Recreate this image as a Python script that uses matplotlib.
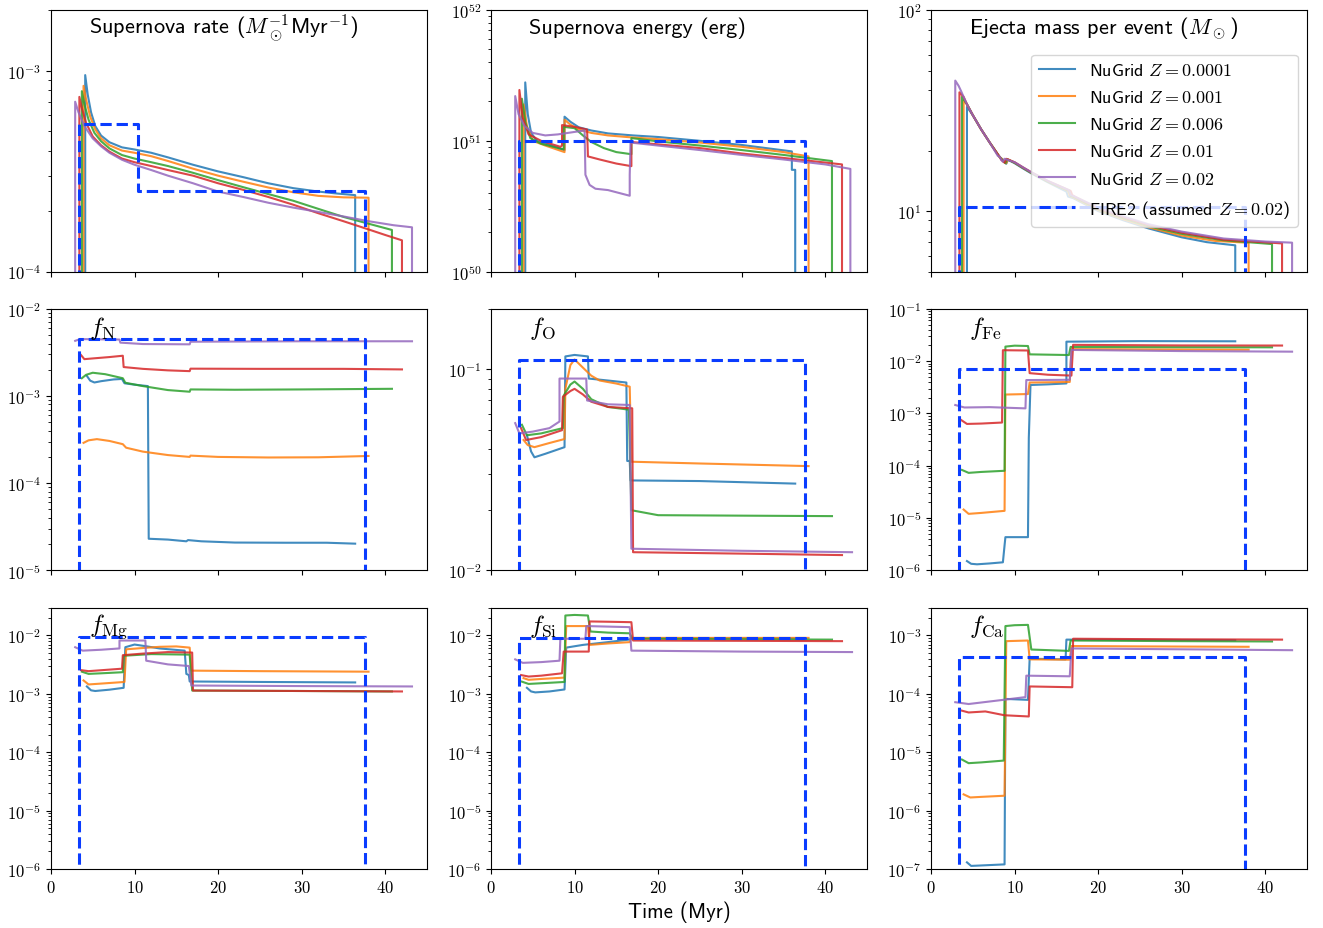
import numpy as np
import matplotlib
matplotlib.use('Agg')
import matplotlib.pyplot as plt
from matplotlib.ticker import FuncFormatter, NullFormatter, MultipleLocator

plt.rcParams['mathtext.fontset'] = 'cm'
plt.rcParams['font.family'] = 'cmss10'

Z_labels = ['0.0001', '0.001', '0.006', '0.01', '0.02']
colors = ['C0', 'C1', 'C2', 'C3', 'C4']

# FIRE2 step values (steps-post)
fire_t = [0, 3.401, 10.37, 37.53, 45]
fire_rate = [0, 5.408e-4, 2.516e-4, 0, 0]
fire_energy = [0, 1e51, 1e51, 0, 0]
fire_mass = [0, 10.5, 10.5, 0, 0]
fire_N = [0, 4.56e-3, 4.56e-3, 0, 0]
fire_O = [0, 0.111, 0.111, 0, 0]
fire_Fe = [0, 7.06e-3, 7.06e-3, 0, 0]
fire_Mg = [0, 9.40e-3, 9.40e-3, 0, 0]
fire_Si = [0, 8.89e-3, 8.89e-3, 0, 0]
fire_Ca = [0, 4.36e-4, 4.36e-4, 0, 0]

# supernova rate (Msun^-1 Myr^-1), (time, value)
rate_z0001 = [(4.1, 0), (4.1, 9.5e-4), (4.4, 7.6e-4), (4.8, 6.2e-4), (5.3, 5.3e-4), (6, 4.75e-4), (7, 4.4e-4),
              (8.5, 4.15e-4), (10, 4.05e-4), (12, 3.9e-4), (14, 3.7e-4), (17, 3.4e-4), (20, 3.15e-4), (23, 2.95e-4),
              (26, 2.75e-4), (29, 2.6e-4), (32, 2.5e-4), (34, 2.45e-4), (36.4, 2.4e-4), (36.4, 0)]
rate_z001 = [(3.9, 0), (3.9, 8.4e-4), (4.2, 7.2e-4), (4.7, 5.9e-4), (5.3, 5.1e-4), (6, 4.6e-4), (7, 4.25e-4),
             (8.5, 4.0e-4), (10, 3.9e-4), (12, 3.75e-4), (14, 3.55e-4), (17, 3.25e-4), (20, 3.0e-4), (23, 2.8e-4),
             (26, 2.62e-4), (29, 2.48e-4), (32, 2.38e-4), (35, 2.34e-4), (38.0, 2.33e-4), (38.0, 0)]
rate_z006 = [(3.7, 0), (3.7, 7.9e-4), (4.0, 6.8e-4), (4.5, 5.7e-4), (5.2, 4.9e-4), (6, 4.45e-4), (7, 4.1e-4),
             (8.5, 3.8e-4), (10, 3.65e-4), (12, 3.5e-4), (14, 3.35e-4), (17, 3.1e-4), (20, 2.85e-4), (23, 2.63e-4),
             (26, 2.43e-4), (29, 2.25e-4), (32, 2.05e-4), (35, 1.87e-4), (38, 1.73e-4), (40.8, 1.61e-4), (40.8, 0)]
rate_z01 = [(3.4, 0), (3.4, 7.4e-4), (3.7, 6.5e-4), (4.2, 5.5e-4), (5, 4.7e-4), (6, 4.25e-4), (7, 3.95e-4),
            (8.5, 3.65e-4), (10, 3.5e-4), (12, 3.35e-4), (14, 3.2e-4), (17, 3.0e-4), (20, 2.75e-4), (23, 2.55e-4),
            (26, 2.35e-4), (29, 2.15e-4), (32, 1.95e-4), (35, 1.78e-4), (38, 1.62e-4), (40, 1.52e-4),
            (42.0, 1.43e-4), (42.0, 0)]
rate_z02 = [(2.9, 0), (2.9, 7.0e-4), (3.3, 6.2e-4), (4, 5.3e-4), (5, 4.6e-4), (6, 4.2e-4), (7, 3.9e-4),
            (8.5, 3.6e-4), (10, 3.4e-4), (12, 3.2e-4), (14, 3.0e-4), (17, 2.75e-4), (20, 2.5e-4), (23, 2.35e-4),
            (26, 2.2e-4), (29, 2.08e-4), (32, 1.98e-4), (35, 1.88e-4), (38, 1.78e-4), (41, 1.7e-4),
            (43.2, 1.66e-4), (43.2, 0)]

# supernova energy (erg)
energy_z0001 = [(4.1, 0), (4.1, 2.8e51), (4.4, 1.6e51), (4.8, 1.15e51), (5.5, 1.0e51), (7, 0.93e51),
                (8.8, 0.85e51), (8.8, 1.53e51), (9.5, 1.4e51), (10.5, 1.27e51), (12, 1.2e51), (14, 1.14e51),
                (17, 1.1e51), (20, 1.07e51), (25, 1.0e51), (30, 0.93e51), (36.0, 0.83e51), (36.0, 0.6e51),
                (36.4, 0.6e51), (36.4, 0)]
energy_z001 = [(3.9, 0), (3.9, 1.9e51), (4.3, 1.3e51), (5, 1.0e51), (6.5, 0.92e51), (8.8, 0.82e51),
               (8.8, 1.45e51), (9.5, 1.33e51), (10.5, 1.22e51), (12, 1.15e51), (14, 1.1e51), (17, 1.06e51),
               (20, 1.03e51), (25, 0.97e51), (30, 0.9e51), (35, 0.82e51), (38.0, 0.76e51), (38.0, 0)]
energy_z006 = [(3.7, 0), (3.7, 2.1e51), (4.1, 1.4e51), (4.7, 1.05e51), (6, 0.95e51), (8.7, 0.86e51),
               (8.7, 1.28e51), (10, 1.25e51), (11, 1.1e51), (12, 0.98e51), (13.5, 0.88e51), (15, 0.82e51),
               (16.8, 0.79e51), (16.8, 1.05e51), (20, 0.99e51), (25, 0.92e51), (30, 0.85e51), (35, 0.78e51),
               (40.8, 0.7e51), (40.8, 0)]
energy_z01 = [(3.4, 0), (3.4, 2.45e51), (3.8, 1.5e51), (4.5, 1.12e51), (6, 1.0e51), (8.3, 0.9e51),
              (8.5, 0.92e51), (8.5, 1.32e51), (10, 1.28e51), (11.5, 1.22e51), (11.6, 0.76e51), (13, 0.72e51),
              (15, 0.67e51), (16.8, 0.64e51), (16.8, 0.98e51), (20, 0.94e51), (25, 0.88e51), (30, 0.8e51),
              (35, 0.74e51), (42.0, 0.66e51), (42.0, 0)]
energy_z02 = [(2.9, 0), (2.9, 2.2e51), (3.3, 1.6e51), (4, 1.3e51), (5, 1.15e51), (6.5, 1.1e51), (8, 1.12e51),
              (10, 1.17e51), (11.2, 1.2e51), (11.3, 0.55e51), (11.8, 0.46e51), (12.5, 0.43e51), (14, 0.42e51),
              (16.6, 0.38e51), (16.6, 0.55e51), (16.7, 0.97e51), (20, 0.92e51), (25, 0.85e51), (30, 0.78e51),
              (35, 0.72e51), (40, 0.66e51), (43.0, 0.61e51), (43.0, 0)]

# ejecta mass per event (Msun)
mass_z0001 = [(4.3, 0), (4.3, 33.0), (5, 30), (6, 25.5), (7, 22), (8.2, 18.6), (8.6, 18.0), (9.0, 17.2),
              (9.2, 18.0), (10, 17.3), (11, 16.3), (12, 15.4), (14, 13.9), (16.2, 12.5), (16.4, 11.8), (17, 11.6),
              (20, 10.0), (23, 9.0), (26, 8.2), (30, 7.4), (33, 7.0), (36.4, 6.75), (36.4, 0)]
mass_z001 = [(3.9, 0), (3.9, 35.5), (4.3, 34), (5, 30), (6, 25.5), (7, 22), (8.2, 18.6), (8.6, 18.0),
             (9.0, 17.3), (9.2, 18.1), (10, 17.4), (11, 16.4), (12, 15.5), (14, 14.0), (16.4, 12.6), (16.6, 11.9),
             (17, 11.7), (20, 10.1), (23, 9.1), (26, 8.3), (30, 7.55), (34, 7.1), (38.0, 6.95), (38.0, 0)]
mass_z006 = [(3.7, 0), (3.7, 37), (4.3, 34), (5, 30), (6, 25.5), (7, 22), (8.2, 18.6), (8.5, 18.0),
             (8.9, 17.3), (9.1, 18.1), (10, 17.4), (11, 16.4), (12, 15.5), (14, 14.0), (16.5, 12.6),
             (16.7, 11.9), (17, 11.8), (20, 10.2), (23, 9.2), (26, 8.4), (30, 7.7), (35, 7.15), (40.8, 6.85),
             (40.8, 0)]
mass_z01 = [(3.4, 0), (3.4, 39), (3.9, 37), (4.3, 34), (5, 30), (6, 25.5), (7, 22), (8.2, 18.6), (8.4, 18.0),
            (8.8, 17.4), (9.0, 18.2), (10, 17.5), (11, 16.5), (12, 15.6), (14, 14.1), (16.7, 12.6), (16.9, 12.0),
            (17.2, 11.8), (20, 10.3), (23, 9.3), (26, 8.5), (30, 7.8), (35, 7.2), (42.0, 6.9), (42.0, 0)]
mass_z02 = [(2.9, 0), (2.9, 44.6), (3.3, 42), (3.6, 39.5), (3.9, 37), (4.3, 34), (5, 30), (6, 25.5), (7, 22),
            (8.0, 18.8), (8.2, 18.7), (8.4, 18.0), (8.6, 17.6), (8.8, 18.2), (10, 17.5), (11, 16.5), (12, 15.6),
            (14, 14.1), (16.5, 12.7), (16.7, 12.0), (17, 11.9), (20, 10.4), (23, 9.4), (26, 8.6), (30, 7.9),
            (35, 7.3), (40, 7.05), (43.2, 6.96), (43.2, 0)]

# nitrogen mass fraction
fN_z0001 = [(4.3, 1.7e-3), (4.7, 1.5e-3), (5.2, 1.43e-3), (6, 1.48e-3), (7.5, 1.55e-3), (8.5, 1.57e-3),
            (8.8, 1.4e-3), (10, 1.35e-3), (11.6, 1.3e-3), (11.7, 2.3e-5), (14, 2.25e-5), (16.2, 2.15e-5),
            (16.4, 2.22e-5), (18, 2.15e-5), (22, 2.08e-5), (28, 2.07e-5), (33, 2.07e-5), (36.4, 2.02e-5)]
fN_z001 = [(3.9, 2.9e-4), (4.5, 3.1e-4), (5.5, 3.2e-4), (7, 3.05e-4), (8.6, 2.8e-4), (9.0, 2.55e-4),
           (11, 2.3e-4), (14, 2.1e-4), (16.6, 2.0e-4), (16.7, 2.07e-4), (20, 2.0e-4), (26, 1.97e-4),
           (32, 1.98e-4), (38.0, 2.05e-4)]
fN_z006 = [(3.7, 1.6e-3), (4.2, 1.75e-3), (5, 1.85e-3), (6.5, 1.78e-3), (8.6, 1.6e-3), (8.9, 1.42e-3),
           (11, 1.3e-3), (14, 1.17e-3), (16.6, 1.12e-3), (16.7, 1.19e-3), (22, 1.18e-3), (30, 1.19e-3),
           (40.8, 1.21e-3)]
fN_z01 = [(3.6, 2.95e-3), (4.0, 2.65e-3), (5, 2.7e-3), (7, 2.8e-3), (8.6, 2.9e-3), (8.7, 2.15e-3),
          (11, 2.05e-3), (14, 1.97e-3), (16.6, 1.93e-3), (16.7, 2.06e-3), (25, 2.05e-3), (35, 2.05e-3),
          (42.0, 2.02e-3)]
fN_z02 = [(2.9, 4.3e-3), (3.5, 4.5e-3), (8.2, 4.45e-3), (8.3, 4.1e-3), (11, 3.95e-3), (16.6, 3.92e-3),
          (16.7, 4.2e-3), (30, 4.25e-3), (43.2, 4.25e-3)]

# oxygen mass fraction
fO_z0001 = [(4.3, 0.047), (4.8, 0.039), (5.2, 0.0365), (6.5, 0.038), (8.8, 0.041), (8.9, 0.116), (10, 0.118),
            (11.6, 0.116), (11.7, 0.090), (14, 0.088), (16.2, 0.086), (16.3, 0.035), (16.6, 0.035),
            (16.7, 0.028), (25, 0.0278), (36.4, 0.027)]
fO_z001 = [(3.9, 0.0445), (4.4, 0.042), (5.2, 0.041), (7, 0.043), (8.8, 0.045), (8.9, 0.08), (9.5, 0.105),
           (10, 0.112), (11, 0.102), (12, 0.093), (13, 0.088), (15, 0.085), (16.6, 0.082), (16.8, 0.0347),
           (25, 0.034), (38.0, 0.033)]
fO_z006 = [(3.7, 0.053), (4.3, 0.047), (6, 0.048), (8.6, 0.051), (8.7, 0.074), (9.5, 0.084), (10, 0.087),
           (11, 0.08), (12, 0.071), (14, 0.065), (16.5, 0.063), (16.8, 0.0199), (20, 0.0188), (30, 0.0187),
           (40.8, 0.0186)]
fO_z01 = [(3.6, 0.051), (4.2, 0.0445), (6, 0.046), (8.5, 0.0498), (8.6, 0.073), (9.5, 0.078), (10, 0.080),
          (11, 0.075), (12, 0.069), (14, 0.065), (16.9, 0.064), (17.0, 0.0123), (30, 0.0121), (42.0, 0.0119)]
fO_z02 = [(2.9, 0.054), (3.4, 0.048), (5, 0.049), (7, 0.051), (8.2, 0.055), (8.2, 0.090), (11.4, 0.090),
          (11.5, 0.070), (14, 0.067), (16.6, 0.0665), (16.8, 0.0128), (30, 0.0125), (43.2, 0.0123)]

# iron mass fraction
fFe_z0001 = [(4.3, 1.5e-6), (4.8, 1.33e-6), (5.5, 1.3e-6), (7, 1.35e-6), (8.6, 1.42e-6), (8.8, 3.0e-6),
             (8.9, 4.3e-6), (11.6, 4.3e-6), (11.7, 3.4e-4), (11.9, 3.5e-3), (14, 3.6e-3), (16.2, 3.75e-3),
             (16.2, 0.0236), (25, 0.0242), (36.4, 0.024)]
fFe_z001 = [(3.9, 1.45e-5), (4.5, 1.2e-5), (6, 1.25e-5), (8.8, 1.37e-5), (8.9, 2.3e-3), (11.6, 2.35e-3),
            (11.8, 3.9e-3), (16.6, 4.0e-3), (16.8, 0.017), (25, 0.0168), (38.0, 0.0166)]
fFe_z006 = [(3.7, 8.3e-5), (4.5, 7.3e-5), (6, 7.6e-5), (8.8, 8.0e-5), (8.9, 0.019), (10, 0.0198),
            (11.6, 0.0195), (11.8, 0.0135), (16.5, 0.0131), (16.7, 0.0187), (30, 0.0185), (40.8, 0.0184)]
fFe_z01 = [(3.6, 7.5e-4), (4.3, 6.3e-4), (6, 6.4e-4), (8.5, 6.7e-4), (8.6, 0.0162), (11.6, 0.016),
           (11.8, 5.9e-3), (14, 5.5e-3), (16.8, 5.3e-3), (17.0, 0.0205), (30, 0.02), (42.0, 0.0199)]
fFe_z02 = [(2.9, 1.45e-3), (4.0, 1.3e-3), (7, 1.32e-3), (11.3, 1.25e-3), (11.4, 4.35e-3), (16.6, 4.4e-3),
           (16.8, 0.0164), (30, 0.0156), (43.2, 0.0152)]

# magnesium mass fraction
fMg_z0001 = [(4.3, 1.34e-3), (4.8, 1.15e-3), (5.3, 1.12e-3), (7, 1.18e-3), (8.7, 1.27e-3), (8.9, 6.3e-3),
             (10, 7.0e-3), (11.5, 6.5e-3), (13, 6.0e-3), (16.0, 5.5e-3), (16.2, 2.2e-3), (16.5, 2.1e-3),
             (16.6, 1.63e-3), (25, 1.6e-3), (36.4, 1.57e-3)]
fMg_z001 = [(3.9, 1.7e-3), (4.5, 1.45e-3), (6, 1.5e-3), (8.8, 1.6e-3), (9.0, 5.8e-3), (11, 6.1e-3),
            (13, 6.4e-3), (15, 6.5e-3), (16.6, 6.2e-3), (16.8, 2.5e-3), (25, 2.45e-3), (38.0, 2.4e-3)]
fMg_z006 = [(3.7, 2.4e-3), (4.5, 2.2e-3), (6, 2.25e-3), (8.6, 2.35e-3), (8.7, 4.5e-3), (12, 4.8e-3),
            (16.6, 4.7e-3), (16.9, 1.14e-3), (30, 1.12e-3), (40.8, 1.1e-3)]
fMg_z01 = [(3.6, 2.55e-3), (4.5, 2.45e-3), (8.5, 2.7e-3), (8.6, 4.6e-3), (11, 4.9e-3), (14, 5.2e-3),
           (16.9, 5.1e-3), (17.0, 1.14e-3), (30, 1.12e-3), (42.0, 1.1e-3)]
fMg_z02 = [(2.9, 6.3e-3), (3.8, 5.5e-3), (6, 5.7e-3), (8.2, 6.0e-3), (8.2, 8.2e-3), (11.3, 8.2e-3),
           (11.4, 3.7e-3), (14, 3.2e-3), (16.5, 3.0e-3), (16.8, 1.39e-3), (30, 1.36e-3), (43.2, 1.34e-3)]

# silicon mass fraction
fSi_z0001 = [(4.3, 1.27e-3), (4.8, 1.1e-3), (5.3, 1.06e-3), (7, 1.1e-3), (8.8, 1.19e-3), (9.0, 6.2e-3),
             (11, 6.9e-3), (14, 7.7e-3), (16.5, 8.5e-3), (17, 9.0e-3), (25, 9.0e-3), (36.4, 8.9e-3)]
fSi_z001 = [(3.9, 1.86e-3), (4.5, 1.74e-3), (6, 1.8e-3), (8.8, 1.9e-3), (9.0, 1.45e-2), (11.6, 1.45e-2),
            (11.8, 6.9e-3), (14, 7.3e-3), (16.6, 7.7e-3), (16.8, 9.1e-3), (25, 9.1e-3), (38.0, 9.1e-3)]
fSi_z006 = [(3.7, 1.62e-3), (4.5, 1.48e-3), (6, 1.52e-3), (8.8, 1.6e-3), (8.9, 2.2e-2), (10, 2.25e-2),
            (11.6, 2.2e-2), (11.9, 1.17e-2), (14, 1.12e-2), (16.6, 1.09e-2), (16.9, 8.8e-3), (30, 8.6e-3),
            (40.8, 8.5e-3)]
fSi_z01 = [(3.6, 2.1e-3), (4.5, 1.98e-3), (6, 2.05e-3), (8.5, 2.25e-3), (8.7, 5.3e-3), (11.7, 5.3e-3),
           (11.8, 1.74e-2), (14, 1.72e-2), (16.8, 1.69e-2), (17.0, 8.2e-3), (30, 8.1e-3), (42.0, 8.0e-3)]
fSi_z02 = [(2.9, 3.9e-3), (3.8, 3.4e-3), (6, 3.5e-3), (8.2, 3.7e-3), (8.3, 8.8e-3), (11.3, 8.8e-3),
           (11.4, 1.45e-2), (14, 1.42e-2), (16.6, 1.39e-2), (16.8, 5.5e-3), (30, 5.3e-3), (43.2, 5.2e-3)]

# calcium mass fraction
fCa_z0001 = [(4.3, 1.3e-7), (4.8, 1.13e-7), (6, 1.15e-7), (8.8, 1.2e-7), (8.9, 8.2e-5), (11.6, 7.9e-5),
             (11.8, 4.0e-4), (16.1, 3.9e-4), (16.2, 8.5e-4), (25, 8.4e-4), (36.4, 8.3e-4)]
fCa_z001 = [(3.9, 1.9e-6), (4.7, 1.68e-6), (6, 1.72e-6), (8.8, 1.8e-6), (9.0, 8.0e-4), (11.6, 8.2e-4),
            (11.8, 3.9e-4), (16.6, 3.85e-4), (16.8, 6.6e-4), (25, 6.5e-4), (38.0, 6.4e-4)]
fCa_z006 = [(3.7, 7.5e-6), (4.5, 6.5e-6), (6, 6.7e-6), (8.7, 7.2e-6), (8.9, 1.45e-3), (10, 1.5e-3),
            (11.6, 1.52e-3), (12.0, 5.75e-4), (16.5, 5.45e-4), (16.7, 8.2e-4), (30, 8.0e-4), (40.8, 7.9e-4)]
fCa_z01 = [(3.6, 5.2e-5), (4.5, 4.8e-5), (6.5, 5.0e-5), (8.8, 4.3e-5), (11.7, 4.1e-5), (11.8, 1.34e-4),
           (16.9, 1.3e-4), (17.0, 8.8e-4), (30, 8.6e-4), (42.0, 8.5e-4)]
fCa_z02 = [(2.9, 7.2e-5), (4.5, 6.7e-5), (8, 7.7e-5), (11.3, 8.8e-5), (11.4, 2.05e-4), (16.6, 2.0e-4),
           (16.8, 6.0e-4), (30, 5.8e-4), (43.2, 5.6e-4)]

panels = [
    ([rate_z0001, rate_z001, rate_z006, rate_z01, rate_z02], fire_rate, (1e-4, 2e-3),
     r'Supernova rate ($M_\odot^{-1}$Myr$^{-1}$)', 'title'),
    ([energy_z0001, energy_z001, energy_z006, energy_z01, energy_z02], fire_energy, (1e50, 1e52),
     'Supernova energy (erg)', 'title'),
    ([mass_z0001, mass_z001, mass_z006, mass_z01, mass_z02], fire_mass, (5, 100),
     r'Ejecta mass per event ($M_\odot$)', 'title'),
    ([fN_z0001, fN_z001, fN_z006, fN_z01, fN_z02], fire_N, (1e-5, 1e-2), r'$f_{\rm N}$', 'f'),
    ([fO_z0001, fO_z001, fO_z006, fO_z01, fO_z02], fire_O, (1e-2, 0.2), r'$f_{\rm O}$', 'f'),
    ([fFe_z0001, fFe_z001, fFe_z006, fFe_z01, fFe_z02], fire_Fe, (1e-6, 1e-1), r'$f_{\rm Fe}$', 'f'),
    ([fMg_z0001, fMg_z001, fMg_z006, fMg_z01, fMg_z02], fire_Mg, (1e-6, 3e-2), r'$f_{\rm Mg}$', 'f'),
    ([fSi_z0001, fSi_z001, fSi_z006, fSi_z01, fSi_z02], fire_Si, (1e-6, 3e-2), r'$f_{\rm Si}$', 'f'),
    ([fCa_z0001, fCa_z001, fCa_z006, fCa_z01, fCa_z02], fire_Ca, (1e-7, 3e-3), r'$f_{\rm Ca}$', 'f'),
]

fig, axes = plt.subplots(3, 3, figsize=(13.23, 9.29), dpi=100, sharex=True)
fig.subplots_adjust(left=0.0385, right=0.988, bottom=0.0635, top=0.988, wspace=0.17, hspace=0.143)

ylab = FuncFormatter(lambda v, p: r'$10^{%d}$' % int(round(np.log10(v))))
xlab = FuncFormatter(lambda v, p: r'$%d$' % v)

for ax, (curves, fire, ylim, label, kind) in zip(axes.flat, panels):
    for pts, c, zl in zip(curves, colors, Z_labels):
        t, v = np.array(pts).T
        ax.plot(t, v, color=c, lw=1.5, alpha=0.85, label=r'NuGrid $Z = %s$' % zl)
    ax.plot(fire_t, fire, color='#0a3cff', ls='--', lw=2.2, drawstyle='steps-post',
            label=r'FIRE2 (assumed $Z = 0.02$)')
    ax.set_yscale('log')
    ax.set_ylim(*ylim)
    ax.set_xlim(0, 45)
    ax.yaxis.set_major_formatter(ylab)
    ax.yaxis.set_minor_formatter(NullFormatter())
    ax.xaxis.set_major_locator(MultipleLocator(10))
    ax.xaxis.set_major_formatter(xlab)
    ax.tick_params(labelsize=12)
    if kind == 'title':
        ax.text(0.1, 0.935, label, transform=ax.transAxes, fontsize=16, va='center', ha='left')
    else:
        ax.text(0.1, 0.93, label, transform=ax.transAxes, fontsize=18, va='center', ha='left')

axes[0, 2].legend(loc='center right', fontsize=13, labelspacing=0.62)
axes[2, 1].set_xlabel('Time (Myr)', fontsize=15)

fig.savefig('out.png', dpi=100)
